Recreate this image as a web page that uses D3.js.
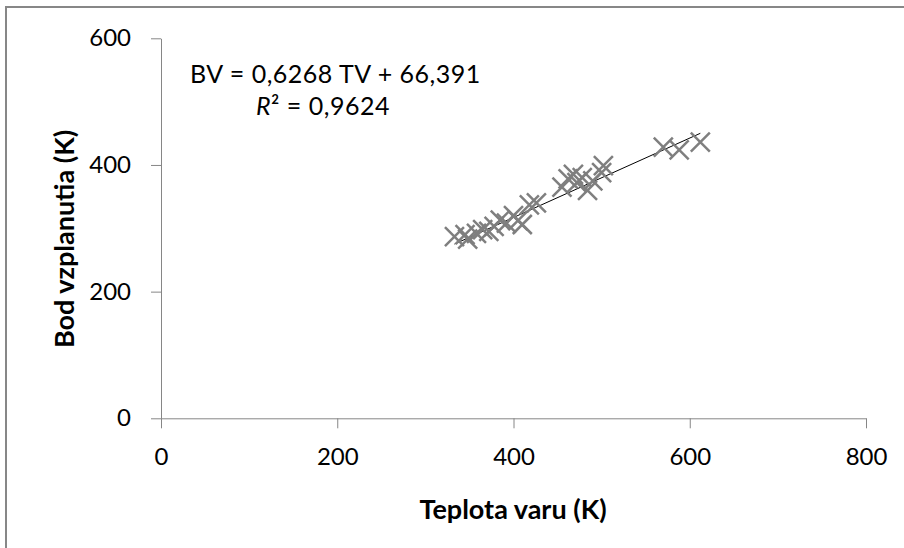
<!DOCTYPE html>
<html><head><meta charset="utf-8">
<script src="https://cdn.jsdelivr.net/npm/d3@7"></script>
<style>body{margin:0;background:#fff;} text{font-family:Lato, "Open Sans", sans-serif;}</style>
</head><body><svg id="c" width="904" height="548"></svg>
<script>
const teplota = [333,345,348,358,365,372,378,385,392,400,405,410,418,426,455,462,468,472,478,484,490,500,502,570,588,612];
const bod     = [287,290,283,292,298,295,303,313,308,320,312,306,337,340,365,378,385,372,380,360,375,388,399,428,424,436];
const xTicks = [0,200,400,600,800];
const yTicks = [0,200,400,600];
const slope = 0.6268, intercept = 66.391;
const eqText = "BV = 0,6268 TV + 66,391";
const r2Text = " = 0,9624";
const xTitle = "Teplota varu (K)", yTitle = "Bod vzplanutia (K)";

const svg = d3.select("#c");
svg.append("path").attr("d","M6,548 V7 H904").attr("fill","none").attr("stroke","#878787").attr("stroke-width",2);

const x = d3.scaleLinear().domain([0,800]).range([161,866]);
const y = d3.scaleLinear().domain([0,600]).range([418.3,38.3]);
const axCol = "#868686";

const xa = svg.append("g").attr("transform","translate(0,418.3)")
  .call(d3.axisBottom(x).tickValues(xTicks).tickSize(10).tickSizeOuter(0).tickPadding(20));
const ya = svg.append("g").attr("transform","translate(161,0)")
  .call(d3.axisLeft(y).tickValues(yTicks).tickSize(10).tickSizeOuter(0).tickPadding(20));
[xa,ya].forEach(g=>{
  g.selectAll("path,line").attr("stroke",axCol);
  g.selectAll("text").attr("fill","#000").style("font-size","24px").style("font-family","Lato, sans-serif");
});

const xs = d3.extent(teplota);
svg.append("line").attr("x1",x(xs[0])).attr("y1",y(slope*xs[0]+intercept))
  .attr("x2",x(xs[1])).attr("y2",y(slope*xs[1]+intercept)).attr("stroke","#000").attr("stroke-width",1);

const s = 9.5;
const pts = svg.append("g");
teplota.forEach((t,i)=>{
  const cx=x(t), cy=y(bod[i]);
  pts.append("path").attr("d",`M${cx-s},${cy-s}L${cx+s},${cy+s}M${cx-s},${cy+s}L${cx+s},${cy-s}`)
    .attr("stroke","#7f7f7f").attr("stroke-width",2.5).attr("fill","none");
});

svg.append("text").attr("x",190).attr("y",83).style("font-size","25px").style("letter-spacing","0.5px").text(eqText);
const r = svg.append("text").attr("x",256).attr("y",115).style("font-size","25px").style("letter-spacing","0.5px");
r.append("tspan").style("font-style","italic").text("R");
r.append("tspan").text("²" + r2Text);

svg.append("text").attr("x",513).attr("y",519).attr("text-anchor","middle")
  .style("font-size","27px").style("font-weight","bold").text(xTitle);
svg.append("text").attr("transform","translate(74,239) rotate(-90)").attr("text-anchor","middle")
  .style("font-size","27px").style("font-weight","bold").text(yTitle);
</script></body></html>
